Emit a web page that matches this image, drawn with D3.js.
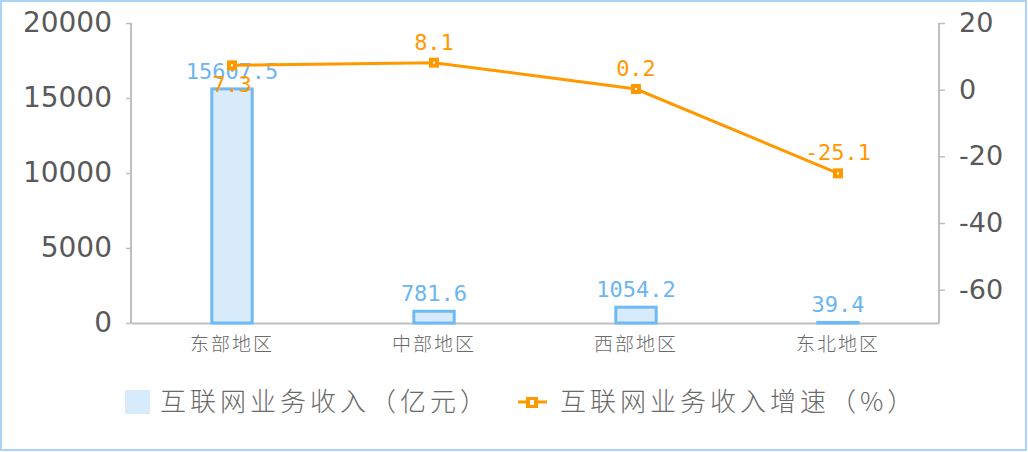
<!DOCTYPE html>
<html><head><meta charset="utf-8">
<script src="https://cdn.jsdelivr.net/npm/d3@7"></script>
<style>
html,body{margin:0;padding:0;background:#fff;}
svg{display:block;}
</style></head>
<body>
<svg id="chart" width="1028" height="452"></svg>
<script>
const categories = ["东部地区", "中部地区", "西部地区", "东北地区"];
const revenue = [15607.5, 781.6, 1054.2, 39.4];
const growth = [7.3, 8.1, 0.2, -25.1];
const leftTicks = [0, 5000, 10000, 15000, 20000];
const rightTicks = [-60, -40, -20, 0, 20];
const seriesNames = ["互联网业务收入（亿元）", "互联网业务收入增速（%）"];

const svg = d3.select("#chart");
const W = 1028, H = 452;
const m = {left: 131, right: 939, top: 23, bottom: 323};

const blueStroke = "#6fbaf2", blueFill = "#d7ebfb", blueText = "#6cb6ee";
const orange = "#ff9900";
const axisColor = "#bfbfbf", tickText = "#595959";

// border
svg.append("rect").attr("x", 1).attr("y", 1).attr("width", W - 3).attr("height", H - 3)
  .attr("fill", "none").attr("stroke", "#a9d3f7").attr("stroke-width", 2);

const x = d3.scaleBand().domain(categories).range([m.left, m.right]);
const yL = d3.scaleLinear().domain([0, 20000]).range([m.bottom, m.top]);
const yR = d3.scaleLinear().domain([-70, 20]).range([m.bottom, m.top]);

const fmt = d => String(d);

// axes
const gL = svg.append("g").attr("transform", `translate(${m.left},0)`)
  .call(d3.axisLeft(yL).tickValues(leftTicks).tickSize(5).tickPadding(14).tickFormat(fmt));
const gR = svg.append("g").attr("transform", `translate(${m.right},0)`)
  .call(d3.axisRight(yR).tickValues(rightTicks).tickSize(6).tickPadding(14).tickFormat(fmt));
const gB = svg.append("g").attr("transform", `translate(0,${m.bottom})`)
  .call(d3.axisBottom(x).tickSize(0).tickPadding(11));

[gL, gR].forEach(g => {
  g.select(".domain").attr("stroke", axisColor).attr("stroke-width", 2).attr("d", `M0,${m.top}V${m.bottom}`);
  g.selectAll(".tick line").attr("stroke", axisColor).attr("stroke-width", 1.5);
  g.selectAll(".tick text").attr("fill", tickText).attr("font-family", "DejaVu Sans, Verdana, sans-serif");
});
gL.selectAll(".tick text").attr("font-size", 28);
gR.selectAll(".tick text").attr("font-size", 27);
gB.select(".domain").attr("stroke", axisColor).attr("stroke-width", 2);
gB.selectAll(".tick text").attr("fill", "#6a6a6a").attr("font-family", "'Noto Sans CJK SC', sans-serif")
  .attr("font-size", 19).attr("letter-spacing", 2).attr("font-weight", 300).attr("dy", "0.9em");

// bars
const bw = x.bandwidth() * 0.2;
svg.append("g").selectAll("rect").data(categories).join("rect")
  .attr("x", d => x(d) + x.bandwidth() / 2 - bw / 2)
  .attr("y", (d, i) => yL(revenue[i]))
  .attr("width", bw)
  .attr("height", (d, i) => yL(0) - yL(revenue[i]))
  .attr("fill", blueFill).attr("stroke", blueStroke).attr("stroke-width", 3);

// bar labels
svg.append("g").selectAll("text").data(categories).join("text")
  .attr("x", d => x(d) + x.bandwidth() / 2)
  .attr("y", (d, i) => yL(revenue[i]) - 10)
  .attr("text-anchor", "middle")
  .attr("font-family", "'DejaVu Sans Mono', monospace").attr("font-size", 22)
  .attr("fill", blueText)
  .text((d, i) => revenue[i]);

// line
const cx = d => x(d) + x.bandwidth() / 2;
const line = d3.line().x((d, i) => cx(categories[i])).y(d => yR(d));
svg.append("path").datum(growth).attr("d", line)
  .attr("fill", "none").attr("stroke", orange).attr("stroke-width", 3);

const mk = svg.append("g").selectAll("g").data(categories).join("g")
  .attr("transform", (d, i) => `translate(${cx(d)},${yR(growth[i])})`);
mk.append("rect").attr("x", -5).attr("y", -5).attr("width", 10).attr("height", 10).attr("fill", orange);
mk.append("rect").attr("x", -1).attr("y", -1).attr("width", 2).attr("height", 2).attr("fill", "#fff");

// line labels (first one displaced below, as in reference)
const labelOffset = [27, -13, -13, -13];
svg.append("g").selectAll("text").data(categories).join("text")
  .attr("x", d => cx(d))
  .attr("y", (d, i) => yR(growth[i]) + labelOffset[i])
  .attr("text-anchor", "middle")
  .attr("font-family", "'DejaVu Sans Mono', monospace").attr("font-size", 22)
  .attr("fill", orange)
  .text((d, i) => growth[i]);

// legend
const lg = svg.append("g");
lg.append("rect").attr("x", 125).attr("y", 390).attr("width", 25).attr("height", 24).attr("fill", blueFill);
lg.append("text").attr("x", 160).attr("y", 411).text(seriesNames[0]);
lg.append("line").attr("x1", 518).attr("x2", 547).attr("y1", 402).attr("y2", 402)
  .attr("stroke", orange).attr("stroke-width", 3);
lg.append("rect").attr("x", 526).attr("y", 397).attr("width", 12).attr("height", 11).attr("fill", orange);
lg.append("rect").attr("x", 530).attr("y", 400).attr("width", 4).attr("height", 5).attr("fill", "#fff");
lg.append("text").attr("x", 560).attr("y", 411).text(seriesNames[1]);
lg.selectAll("text").attr("font-family", "'Noto Sans CJK SC', sans-serif").attr("font-size", 26)
  .attr("letter-spacing", 4).attr("fill", "#6a6a6a").attr("font-weight", 300);
</script>
</body></html>
